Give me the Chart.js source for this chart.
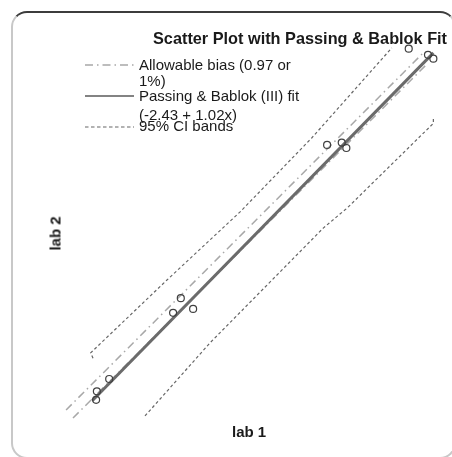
<!DOCTYPE html>
<html>
<head>
<meta charset="utf-8">
<script src="https://cdn.jsdelivr.net/npm/chart.js@4.4.1/dist/chart.umd.min.js"></script>
<style>
  body { margin: 0; background: #fff; font-family: Arial, "Liberation Sans", sans-serif; }
  #wrap { position: relative; width: 452px; height: 457px; overflow: hidden; }
  #frame {
    position: absolute; left: 11px; top: 11px; width: 441px; height: 444px;
    border: 2px solid #c8c8c8; border-top-color: #3c3c3c;
    border-radius: 16px;
  }
  canvas { position: absolute; left: 0; top: 0; }
  .txt { position: absolute; white-space: nowrap; color: #1a1a1a; font-size: 15px; line-height: 17px; }
  .bold { font-weight: bold; }
  #legend-lines { position: absolute; left: 0; top: 0; }
</style>
</head>
<body>
<div id="wrap">
  <div id="frame"></div>
  <canvas id="myChart" width="452" height="457"></canvas>

  <div class="txt bold" style="left:153px; top:29px; font-size:16.3px; line-height:18px;">Scatter Plot with Passing &amp; Bablok Fit</div>

  <svg id="legend-lines" width="452" height="140">
    <line x1="85" y1="65" x2="134" y2="65" stroke="#a8a8a8" stroke-width="1.5" stroke-dasharray="8 4 1.5 4"/>
    <line x1="85" y1="96" x2="134" y2="96" stroke="#5a5a5a" stroke-width="1.6"/>
    <line x1="85" y1="127" x2="134" y2="127" stroke="#666" stroke-width="1.2" stroke-dasharray="3.5 2.5"/>
  </svg>
  <div class="txt" style="left:139px; top:56px;">Allowable bias (0.97 or</div>
  <div class="txt" style="left:139px; top:72px;">1%)</div>
  <div class="txt" style="left:139px; top:87px;">Passing &amp; Bablok (III) fit</div>
  <div class="txt" style="left:139px; top:106px;">(-2.43 + 1.02x)</div>
  <div class="txt" style="left:139px; top:117px;">95% CI bands</div>

  <div class="txt bold" style="left:232px; top:423px;">lab 1</div>
  <div class="txt bold" style="left:25px; top:225px; width:60px; text-align:center; transform:rotate(-90deg);">lab 2</div>
</div>

<script>
// measured pairs (lab 1, lab 2)
const lab1 = [60.5, 60.4, 62.1, 70.4, 71.4, 73.0, 90.4, 92.3, 92.9, 101.0, 103.5, 104.2];
const lab2 = [59.9, 58.8, 61.5, 70.1, 72.0, 70.6, 91.9, 92.2, 91.5, 104.4, 103.6, 103.1];

// Passing & Bablok fit line (-2.43 + 1.02x)
const fitX = [59.9, 104.2];
const fitY = [58.67, 103.85];

// allowable bias lines
const biasUpX = [56.5, 103.1];
const biasUpY = [57.47, 104.07];
const biasLoX = [57.4, 103.5];
const biasLoY = [56.43, 102.53];

// 95% CI bands
const ciUpX = [60.0, 59.7, 69.6, 79.1, 88.4, 98.8];
const ciUpY = [64.2, 64.9, 74.35, 83.2, 92.8, 104.5];
const ciLoX = [66.75, 75.2, 89.9, 93.0, 104.2, 104.2];
const ciLoY = [56.7, 66.2, 81.1, 83.7, 94.7, 95.4];

function pairs(xs, ys) {
  return xs.map(function (x, i) { return { x: x, y: ys[i] }; });
}

const lineBase = { showLine: true, pointRadius: 0, fill: false, tension: 0 };

const ctx = document.getElementById("myChart");
new Chart(ctx, {
  type: "scatter",
  data: {
    datasets: [
      {
        label: "data",
        data: pairs(lab1, lab2),
        pointRadius: 3.5,
        pointBorderWidth: 1.2,
        borderColor: "#404040",
        backgroundColor: "rgba(0,0,0,0)",
        order: 0,
      },
      Object.assign({}, lineBase, {
        label: "fit",
        data: pairs(fitX, fitY),
        borderColor: "#6b6b6b",
        borderWidth: 3,
        order: 1,
      }),
      Object.assign({}, lineBase, {
        label: "bias up",
        data: pairs(biasUpX, biasUpY),
        borderColor: "#a8a8a8",
        borderWidth: 1.5,
        borderDash: [8, 4, 1.5, 4],
        order: 2,
      }),
      Object.assign({}, lineBase, {
        label: "bias low",
        data: pairs(biasLoX, biasLoY),
        borderColor: "#a8a8a8",
        borderWidth: 1.5,
        borderDash: [8, 4, 1.5, 4],
        order: 2,
      }),
      Object.assign({}, lineBase, {
        label: "ci up",
        data: pairs(ciUpX, ciUpY),
        borderColor: "#666",
        borderWidth: 1.2,
        borderDash: [3, 2.5],
        order: 3,
      }),
      Object.assign({}, lineBase, {
        label: "ci low",
        data: pairs(ciLoX, ciLoY),
        borderColor: "#666",
        borderWidth: 1.2,
        borderDash: [3, 2.5],
        order: 3,
      }),
    ],
  },
  options: {
    responsive: false,
    animation: false,
    layout: { padding: 0, autoPadding: false },
    scales: {
      x: { type: "linear", display: false, min: 47.92, max: 106.62 },
      y: { type: "linear", display: false, min: 51.37, max: 110.72 },
    },
    plugins: {
      legend: { display: false },
      title: { display: false },
      tooltip: { enabled: false },
    },
  },
});
</script>
</body>
</html>
